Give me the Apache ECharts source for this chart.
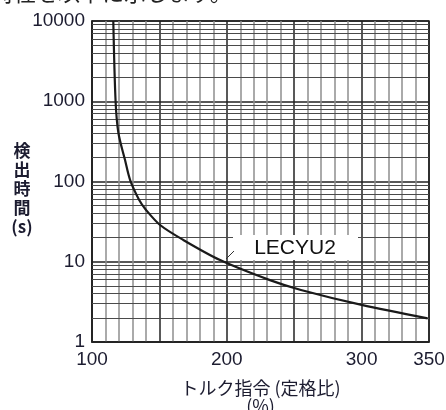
<!DOCTYPE html>
<html>
<head>
<meta charset="utf-8">
<script src="https://cdn.jsdelivr.net/npm/echarts@6/dist/echarts.min.js"></script>
<style>
  html, body { margin: 0; padding: 0; background: #fff; }
  #chart { width: 446px; height: 410px; }
</style>
</head>
<body>
<div id="chart"></div>
<script>
// トルク指令 (%) vs 検出時間 (s)
const torque = [115.8, 117.5, 119.6, 124.5, 128.3, 135, 140.1, 150.5, 167.7, 195, 232, 255, 300, 349];
const detectTime = [10000, 1000, 402, 185, 104, 58.8, 44.2, 28.7, 18.7, 10.5, 5.9, 4.45, 2.9, 1.97];
const xLabels = [100, 200, 300, 350];
const seriesName = 'LECYU2';

const chartDom = document.getElementById('chart');
const myChart = echarts.init(chartDom);

// minor horizontal lines of the log grid (2..9 in each decade)
const minorY = [];
for (let d = 1; d < 10000; d *= 10) {
    for (let k = 2; k <= 9; k++) {
        minorY.push({ yAxis: d * k });
    }
}

const labelFont = 'Liberation Sans';
const textColor = '#1c1c30';

const option = {
    animation: false,
    grid: {
        left: 92, top: 21, right: 17, bottom: 68,
        outerBoundsMode: 'none',
        containLabel: false,
        show: true,
        borderColor: '#222',
        borderWidth: 1.5
    },
    xAxis: {
        type: 'value',
        min: 100,
        max: 350,
        interval: 50,
        name: 'トルク指令 (定格比)\n(%)',
        nameLocation: 'middle',
        nameGap: 37,
        nameTextStyle: {
            fontFamily: 'Noto Sans CJK JP',
            fontSize: 18,
            lineHeight: 18,
            color: textColor
        },
        axisLine: { show: true, lineStyle: { color: '#222', width: 1.5 } },
        axisTick: { show: false },
        axisLabel: {
            margin: 8,
            fontFamily: labelFont,
            fontSize: 19,
            color: textColor,
            formatter: v => xLabels.includes(v) ? String(v) : ''
        },
        splitLine: { show: true, lineStyle: { color: '#222', width: 1.5 } },
        minorTick: { show: false, splitNumber: 5 },
        minorSplitLine: { show: true, lineStyle: { color: '#8e8e8e', width: 1.5 } }
    },
    yAxis: {
        type: 'log',
        logBase: 10,
        min: 1,
        max: 10000,
        axisLine: { show: true, lineStyle: { color: '#222', width: 1.5 } },
        axisTick: { show: false },
        axisLabel: {
            margin: 7,
            fontFamily: labelFont,
            fontSize: 19,
            color: textColor,
            formatter: v => String(v)
        },
        splitLine: { show: true, lineStyle: { color: '#222', width: 1.5 } }
    },
    series: [
        {
            type: 'line',
            data: [],
            z: 1,
            markLine: {
                silent: true,
                symbol: 'none',
                label: { show: false },
                lineStyle: { color: '#4a4a4a', width: 1.2, type: 'solid' },
                data: minorY
            }
        },
        {
            name: seriesName,
            type: 'line',
            z: 5,
            smooth: 0.3,
            showSymbol: false,
            lineStyle: { color: '#1a1a1a', width: 2.2 },
            data: torque.map((t, i) => [t, detectTime[i]])
        }
    ],
    graphic: [
        {
            type: 'text',
            left: -8,
            top: -18,
            style: {
                text: '特性を以下に示します。',
                font: '22px "Noto Sans CJK JP"',
                fill: '#222'
            }
        },
        {
            // y axis title, stacked vertically
            type: 'text',
            x: 22,
            y: 141,
            style: {
                text: '検\n出\n時\n間\n(s)',
                font: 'bold 17px "Noto Sans CJK JP"',
                lineHeight: 19,
                fill: textColor,
                align: 'center',
                verticalAlign: 'top'
            }
        },
        {
            type: 'rect',
            z: 20,
            shape: { x: 233, y: 235, width: 125, height: 25 },
            style: { fill: '#fff' }
        },
        {
            type: 'line',
            z: 21,
            shape: { x1: 226, y1: 259, x2: 234, y2: 251 },
            style: { stroke: '#333', lineWidth: 1 }
        },
        {
            type: 'text',
            z: 21,
            x: 295,
            y: 248,
            style: {
                text: seriesName,
                font: '21px "Liberation Sans"',
                fill: '#111',
                align: 'center',
                verticalAlign: 'middle'
            }
        }
    ]
};

myChart.setOption(option);
</script>
</body>
</html>
